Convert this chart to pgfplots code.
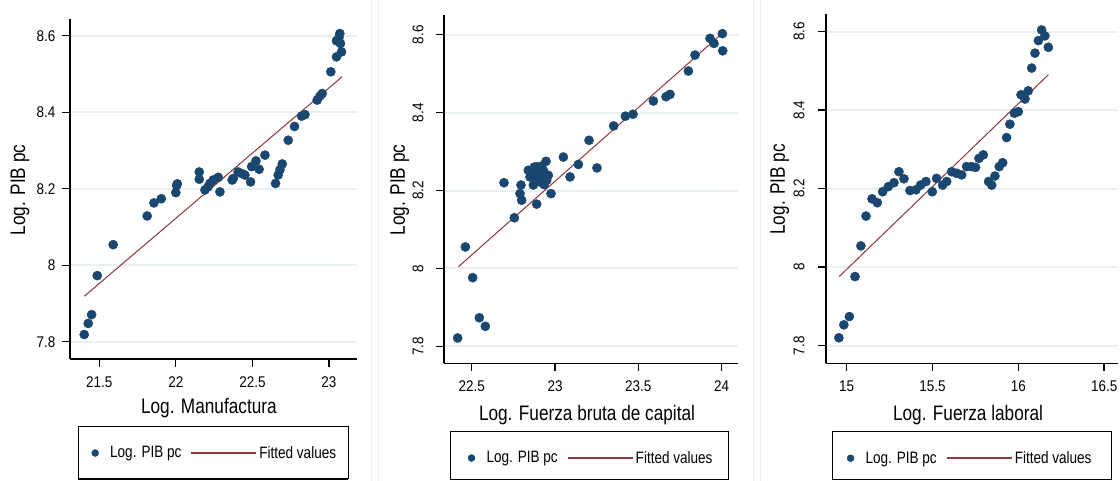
\documentclass[border=0pt]{standalone}
\usepackage{pgfplots}
\pgfplotsset{compat=1.18}
\usepackage{fontspec}
\setmainfont{Liberation Sans}
\newfontfamily\stfont[FakeStretch=0.87]{Liberation Sans}
\newfontfamily\lbfont[FakeStretch=0.82]{Liberation Sans}
\definecolor{navy}{RGB}{26,71,111}
\definecolor{maroon}{RGB}{144,53,59}
\definecolor{gridc}{RGB}{232,240,243}
\definecolor{sepc}{RGB}{232,240,243}
\pgfplotsset{
  stata/.style={
    scale only axis,
    axis x line*=bottom, axis y line*=left,
    axis line style={line width=1.3pt, black, -},
    tick align=outside, major tick length=8pt,
    every tick/.style={line width=1.3pt, black},
    ymajorgrids, grid style={line width=2pt, gridc},
    ytick={7.8,8,8.2,8.4,8.6},
    /pgf/number format/assume math mode=true,
    tick label style={font=\stfont\fontsize{15.5}{16}\selectfont},
    xticklabel shift=6pt,
    label style={font=\lbfont\fontsize{21}{22}\selectfont},
    ylabel={Log. PIB pc},
    legend columns=2,
    legend style={draw=none, fill=none, anchor=center,
      font=\lbfont\fontsize{16.5}{17}\selectfont,
      /tikz/every even column/.append style={column sep=7pt}},
    clip=false,
  },
  dots/.style={only marks, mark=*, mark size=4.6pt, color=navy,
    legend image code/.code={
      \path[draw=none, fill=none] (-4pt,0pt) -- (13pt,0pt);
      \path[fill=navy] (0pt,0pt) circle[radius=3.5pt];}},
  fit/.style={no marks, color=maroon, line width=1pt,
    legend image code/.code={\draw[##1, line width=2pt] (0pt,0pt) -- (65pt,0pt);}},
}
\begin{document}
\begin{tikzpicture}
\path[use as bounding box] (0pt,0pt) rectangle (1120pt,481pt);
\draw[sepc, line width=1pt] (371pt,0pt) -- (371pt,481pt);
\draw[sepc, line width=1pt] (378pt,0pt) -- (378pt,481pt);
\draw[sepc, line width=1pt] (753pt,0pt) -- (753pt,481pt);
\draw[sepc, line width=1pt] (760pt,0pt) -- (760pt,481pt);
% legend boxes
\draw[line width=1pt] (78.3pt,54.3pt) rectangle (348.3pt,2pt);
\draw[line width=2.2pt] (78.3pt,2pt) -- (348.3pt,2pt);
\draw[line width=1pt] (450pt,49pt) rectangle (728.6pt,1.5pt);
\draw[line width=1pt] (832pt,49pt) rectangle (1111pt,1.5pt);

% Panel 1
\begin{axis}[stata, at={(70pt,122pt)}, anchor=south west,
  width=287pt, height=340pt,
  xmin=21.309, xmax=23.183, ymin=7.755, ymax=8.644,
  xtick={21.5,22,22.5,23},
  yticklabel shift=3pt,
  xlabel={Log. Manufactura},
  ylabel style={at={(axis description cs:-0.174,0.497)}, anchor=center},
  xlabel style={at={(axis description cs:0.484,-0.144)}, anchor=center},
  legend style={at={(0.504,-0.2765)}},
]
\addplot[dots] coordinates {
(21.402,7.819)(21.428,7.848)(21.450,7.871)(21.487,7.973)(21.591,8.054)
(21.813,8.129)(21.857,8.163)(21.905,8.174)(22.000,8.190)(22.005,8.209)
(22.010,8.213)(22.153,8.244)(22.153,8.225)(22.190,8.197)(22.210,8.205)
(22.223,8.214)(22.244,8.223)(22.277,8.230)(22.288,8.192)(22.368,8.223)
(22.375,8.227)(22.407,8.244)(22.430,8.240)(22.451,8.236)(22.488,8.218)
(22.495,8.258)(22.523,8.273)(22.544,8.251)(22.582,8.288)(22.651,8.214)
(22.668,8.236)(22.680,8.250)(22.695,8.265)(22.734,8.327)(22.775,8.363)
(22.821,8.390)(22.843,8.394)(22.923,8.432)(22.940,8.442)(22.956,8.449)
(23.012,8.506)(23.049,8.545)(23.082,8.558)(23.049,8.587)(23.071,8.606)
(23.075,8.580)(23.065,8.595)
};
\addlegendentry{Log. PIB pc}
\addplot[fit] coordinates {(21.402,7.919)(23.086,8.493)};
\addlegendentry{Fitted values}
\end{axis}

% Panel 2
\begin{axis}[stata, at={(444pt,117.7pt)}, anchor=south west,
  width=293.7pt, height=348.3pt,
  xmin=22.334, xmax=24.096, ymin=7.756, ymax=8.651,
  xtick={22.5,23,23.5,24},
  xlabel={Log. Fuerza bruta de capital},
  yticklabel style={rotate=90, anchor=south},
  yticklabel shift=9pt,
  ylabel style={at={(axis description cs:-0.150,0.4976)}, anchor=center},
  xlabel style={at={(axis description cs:0.487,-0.148)}, anchor=center},
  legend style={at={(0.5005,-0.272)}},
]
\addplot[dots] coordinates {
(22.416,7.821)(22.462,8.055)(22.506,7.976)(22.546,7.873)(22.582,7.851)
(22.694,8.220)(22.756,8.130)(22.790,8.192)(22.796,8.214)(22.800,8.175)
(22.840,8.252)(22.850,8.235)(22.860,8.245)(22.870,8.214)(22.875,8.260)
(22.885,8.240)(22.890,8.165)(22.890,8.261)(22.895,8.228)(22.900,8.239)
(22.905,8.250)(22.910,8.222)(22.915,8.262)(22.920,8.232)(22.930,8.252)
(22.935,8.215)(22.946,8.275)(22.950,8.226)(22.960,8.239)(22.976,8.192)
(23.050,8.286)(23.090,8.235)(23.140,8.267)(23.204,8.329)(23.252,8.258)
(23.352,8.366)(23.422,8.391)(23.468,8.396)(23.590,8.430)(23.666,8.441)
(23.690,8.447)(23.800,8.507)(23.840,8.548)(23.930,8.591)(23.954,8.578)
(24.004,8.603)(24.006,8.559)
};
\addlegendentry{Log. PIB pc}
\addplot[fit] coordinates {(22.42,8.004)(24.014,8.608)};
\addlegendentry{Fitted values}
\end{axis}

% Panel 3
\begin{axis}[stata, at={(826pt,117.7pt)}, anchor=south west,
  width=291.7pt, height=349pt,
  xmin=14.88, xmax=16.579, ymin=7.755, ymax=8.644,
  xtick={15,15.5,16,16.5},
  xlabel={Log. Fuerza laboral},
  yticklabel style={rotate=90, anchor=south},
  yticklabel shift=10pt,
  ylabel style={at={(axis description cs:-0.158,0.4986)}, anchor=center},
  xlabel style={at={(axis description cs:0.487,-0.148)}, anchor=center},
  legend style={at={(0.4937,-0.272)}},
]
\addplot[dots] coordinates {
(14.955,7.820)(14.984,7.853)(15.016,7.874)(15.049,7.976)(15.083,8.054)
(15.113,8.130)(15.148,8.174)(15.179,8.164)(15.210,8.192)(15.243,8.205)
(15.276,8.215)(15.305,8.243)(15.334,8.225)(15.369,8.195)(15.404,8.197)
(15.431,8.209)(15.462,8.218)(15.499,8.192)(15.524,8.226)(15.559,8.209)
(15.583,8.218)(15.612,8.243)(15.641,8.239)(15.670,8.235)(15.699,8.256)
(15.728,8.256)(15.751,8.254)(15.771,8.277)(15.796,8.286)(15.827,8.218)
(15.845,8.209)(15.864,8.232)(15.889,8.256)(15.909,8.266)(15.932,8.330)
(15.951,8.364)(15.977,8.392)(16.000,8.396)(16.016,8.439)(16.039,8.428)
(16.058,8.449)(16.078,8.507)(16.097,8.545)(16.117,8.577)(16.136,8.604)
(16.155,8.589)(16.175,8.560)
};
\addlegendentry{Log. PIB pc}
\addplot[fit] coordinates {(14.957,7.976)(16.175,8.490)};
\addlegendentry{Fitted values}
\end{axis}
\end{tikzpicture}
\end{document}
